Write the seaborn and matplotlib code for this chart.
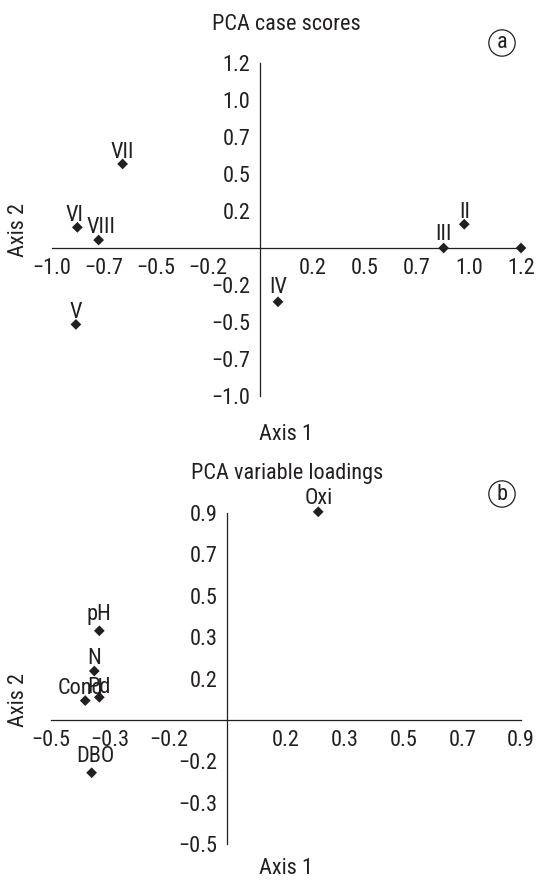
import matplotlib
matplotlib.use("Agg")
import matplotlib.pyplot as plt
import seaborn as sns
import pandas as pd

# ---- data: panel (a) case scores ----
case_labels = ["VII", "VI", "VIII", "V", "IV", "III", "II", ""]
case_axis1 = [-0.66, -0.877, -0.775, -0.884, 0.085, 0.879, 0.978, 1.25]
case_axis2 = [0.569, 0.140, 0.054, -0.517, -0.364, 0.0, 0.161, 0.0]

a_ticks = [-1.0, -0.75, -0.5, -0.25, 0.25, 0.5, 0.75, 1.0, 1.25]
a_ticklabels = ["\u22121.0", "\u22120.7", "\u22120.5", "\u22120.2", "0.2", "0.5", "0.7", "1.0", "1.2"]

# ---- data: panel (b) variable loadings ----
var_labels = ["Oxi", "pH", "N", "Cond", "Pd", "DBO"]
var_axis1 = [0.271, -0.381, -0.396, -0.423, -0.381, -0.404]
var_axis2 = [0.880, 0.377, 0.207, 0.082, 0.096, -0.223]

b_ticks = [-0.525, -0.35, -0.175, 0.175, 0.35, 0.525, 0.7, 0.875]
b_ticklabels = ["\u22120.5", "\u22120.3", "\u22120.2", "0.2", "0.3", "0.5", "0.7", "0.9"]

# label offsets (points) - styling only
a_offsets = {"VII": (0, 4.5), "VI": (-2, 4.5), "VIII": (2, 5), "V": (0, 4.5),
             "IV": (0, 6), "III": (0, 6), "II": (0, 4.5), "": (0, 0)}
b_offsets = {"Oxi": (0, 5.5), "pH": (0, 8), "N": (0, 5), "Cond": (-3.5, 5),
             "Pd": (-0.5, 3), "DBO": (2.5, 7.5)}

sns.set_style("white")
plt.rcParams["font.family"] = ["Roboto Condensed", "DejaVu Sans"]
plt.rcParams["axes.unicode_minus"] = True

FS = 16
INK = "#231f20"

W, H = 536, 891
fig = plt.figure(figsize=(W / 100, H / 100), dpi=100)


def make_axes(l, r, t, b):
    return fig.add_axes([l / W, 1 - b / H, (r - l) / W, (b - t) / H])


def style_axes(ax, lim, ticks, labels):
    ax.set_xlim(*lim)
    ax.set_ylim(*lim)
    ax.patch.set_alpha(0)
    for s in ["top", "right"]:
        ax.spines[s].set_visible(False)
    for s in ["left", "bottom"]:
        ax.spines[s].set_position(("data", 0))
        ax.spines[s].set_color(INK)
        ax.spines[s].set_linewidth(0.9)
    ax.set_xticks(ticks)
    ax.set_xticklabels(labels)
    ax.set_yticks(ticks)
    ax.set_yticklabels(labels)
    ax.tick_params(axis="both", direction="out", length=4.5, width=0.9,
                   color=INK, labelcolor=INK, labelsize=FS, pad=2.5)
    ax.set_xlabel("")
    ax.set_ylabel("")


def draw_points(ax, xs, ys, labels, offsets):
    df = pd.DataFrame({"x": xs, "y": ys, "lab": labels})
    sns.scatterplot(data=df, x="x", y="y", ax=ax, marker="D", color=INK,
                    s=30, edgecolor="none", linewidth=0, clip_on=False, zorder=5,
                    legend=False)
    for x, y, lab in zip(xs, ys, labels):
        if not lab:
            continue
        dx, dy = offsets[lab]
        ax.annotate(lab, (x, y), xytext=(dx, dy), textcoords="offset points",
                    ha="center", va="baseline", fontsize=FS, color=INK,
                    annotation_clip=False)


axA = make_axes(51.7, 521, 63.3, 395.8)
draw_points(axA, case_axis1, case_axis2, case_labels, a_offsets)
style_axes(axA, (-1.0, 1.25), a_ticks, a_ticklabels)

axB = make_axes(51, 521, 513, 844.2)
draw_points(axB, var_axis1, var_axis2, var_labels, b_offsets)
style_axes(axB, (-0.525, 0.875), b_ticks, b_ticklabels)


def ftext(x, y, s, **kw):
    fig.text(x / W, 1 - y / H, s, fontsize=FS, color=INK, ha="center", va="center", **kw)


ftext(286, 24, "PCA case scores")
ftext(286, 435, "Axis 1")
ftext(18, 230, "Axis 2", rotation=90)
ftext(287, 474, "PCA variable loadings")
ftext(286, 868, "Axis 1")
ftext(18, 700, "Axis 2", rotation=90)

for (cx, cy, letter) in [(502, 43, "a"), (502, 494, "b")]:
    fig.text(cx / W, 1 - cy / H, letter, fontsize=FS, color=INK, ha="center", va="center",
             bbox=dict(boxstyle="circle,pad=0.12", fc="none", ec=INK, lw=0.9))

fig.savefig("out.png", dpi=100)
